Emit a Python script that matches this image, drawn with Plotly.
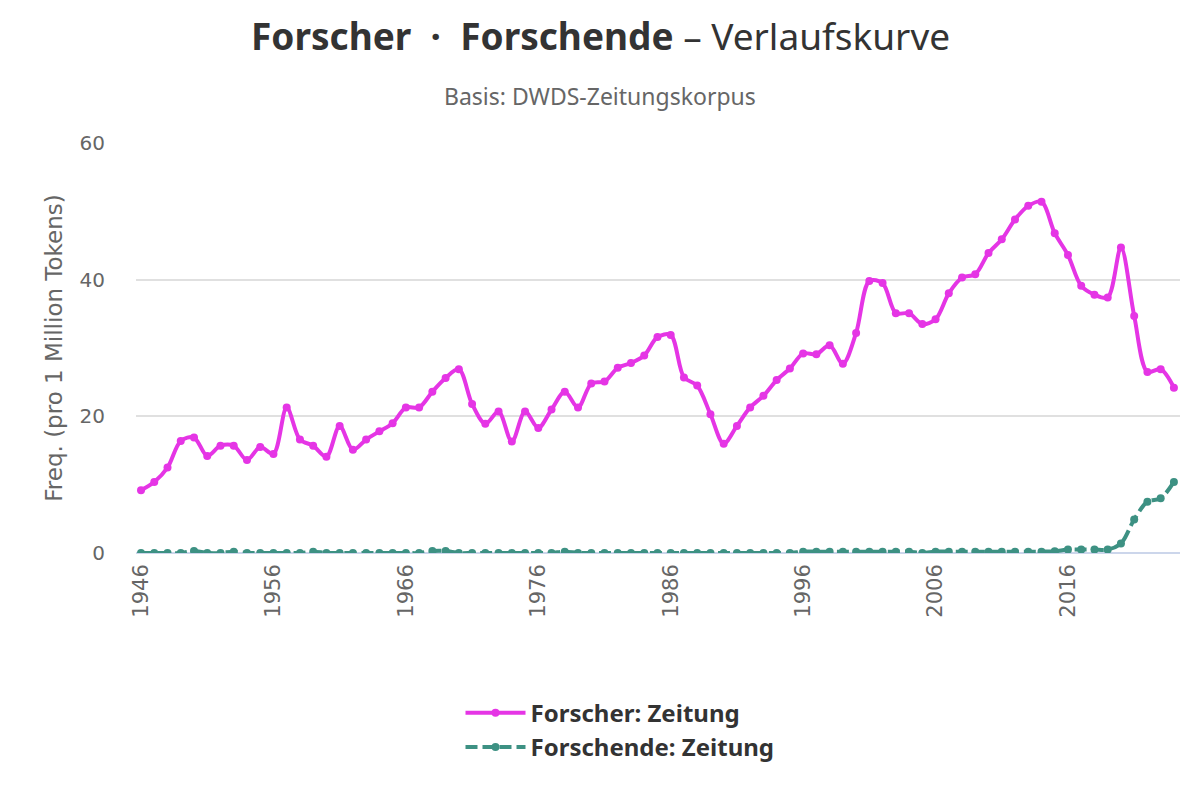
import plotly.graph_objects as go

years = list(range(1946, 2025))

forscher = [
    9.2, 10.4, 12.5, 16.4, 16.9, 14.2, 15.7, 15.7, 13.6, 15.5,
    14.5, 21.3, 16.6, 15.7, 14.1, 18.6, 15.1, 16.6, 17.8, 19.0,
    21.3, 21.3, 23.6, 25.6, 26.9, 21.8, 18.9, 20.7, 16.3, 20.7,
    18.3, 21.0, 23.6, 21.3, 24.8, 25.1, 27.1, 27.8, 28.9, 31.6,
    31.9, 25.7, 24.5, 20.3, 16.0, 18.6, 21.3, 23.0, 25.3, 27.0,
    29.2, 29.1, 30.4, 27.7, 32.2, 39.8, 39.5, 35.1, 35.1, 33.5,
    34.2, 38.0, 40.3, 40.8, 43.9, 45.9, 48.8, 50.8, 51.4, 46.8,
    43.6, 39.1, 37.8, 37.4, 44.7, 34.7, 26.5, 26.9, 24.2,
]

forschende = [
    0.0, 0.0, 0.0, 0.0, 0.3, 0.0, 0.0, 0.2, 0.0, 0.0,
    0.0, 0.0, 0.0, 0.2, 0.0, 0.0, 0.0, 0.0, 0.0, 0.0,
    0.0, 0.0, 0.3, 0.3, 0.0, 0.0, 0.0, 0.0, 0.0, 0.0,
    0.0, 0.0, 0.2, 0.0, 0.0, 0.0, 0.0, 0.0, 0.0, 0.0,
    0.0, 0.0, 0.0, 0.0, 0.0, 0.0, 0.0, 0.0, 0.0, 0.0,
    0.2, 0.2, 0.2, 0.2, 0.2, 0.2, 0.2, 0.2, 0.2, 0.0,
    0.2, 0.2, 0.2, 0.2, 0.2, 0.2, 0.2, 0.2, 0.2, 0.25,
    0.5, 0.5, 0.5, 0.5, 1.4, 4.9, 7.5, 8.0, 10.4,
]

tick_years = [1946, 1956, 1966, 1976, 1986, 1996, 2006, 2016]

pink = "#e535e5"
teal = "#3d9183"

fig = go.Figure()
fig.add_trace(go.Scatter(
    x=years, y=forscher, name="Forscher: Zeitung",
    mode="lines+markers", line=dict(color=pink, width=4, shape="spline", smoothing=0.9),
    marker=dict(size=8, color=pink),
))
fig.add_trace(go.Scatter(
    x=years, y=forschende, name="Forschende: Zeitung",
    mode="lines+markers",
    line=dict(color=teal, width=4, dash="12px,5px", shape="spline", smoothing=0.9),
    marker=dict(size=8, color=teal),
))

# the page body adds an 8px offset, so margins are shifted by that amount
# page centre (x=600) expressed in paper coords of the plot area
mid = (600 - 136) / 1044

fig.update_layout(
    width=1200, height=800,
    paper_bgcolor="white", plot_bgcolor="white",
    margin=dict(l=128, r=28, t=135, b=255, autoexpand=False),
    font=dict(family="DejaVu Sans", color="#666666"),
    showlegend=True,
    legend=dict(
        orientation="v", x=mid + 20 / 1044, xanchor="center", y=-0.336, yanchor="top",
        font=dict(family="Noto Sans", size=24, color="#333333", weight="bold"),
        itemwidth=60, tracegroupgap=0,
    ),
)
fig.add_annotation(text="<b>Forscher  ·  Forschende</b> – Verlaufskurve",
                   x=mid, xref="paper", y=(553 - 35) / 410, yref="paper",
                   xanchor="center", yanchor="middle", showarrow=False,
                   font=dict(family="Noto Sans", size=37, color="#333333"))
fig.add_annotation(text="Basis: DWDS-Zeitungskorpus",
                   x=mid, xref="paper", y=(553 - 96) / 410, yref="paper",
                   xanchor="center", yanchor="middle", showarrow=False,
                   font=dict(family="Noto Sans", size=23, color="#666666"))

fig.update_xaxes(
    range=[1945.62, 2024.46], tickmode="array", tickvals=tick_years,
    ticktext=[str(t) for t in tick_years], tickangle=-90,
    tickfont=dict(size=21, color="#666666"),
    showgrid=False, showline=False, zeroline=False, ticks="",
    ticklabelstandoff=6,
)
fig.update_yaxes(
    range=[0, 60], tickvals=[0, 20, 40, 60],
    tickfont=dict(size=20, color="#666666"),
    gridcolor="#e0e0e0", gridwidth=1.5, zeroline=True, zerolinecolor="#ccd6eb",
    zerolinewidth=1.5, showline=False, ticks="", ticklabelstandoff=30,
    title=dict(text="Freq. (pro 1 Million Tokens)", font=dict(size=23, color="#666666"), standoff=10),
)

fig.write_html("out.html")
